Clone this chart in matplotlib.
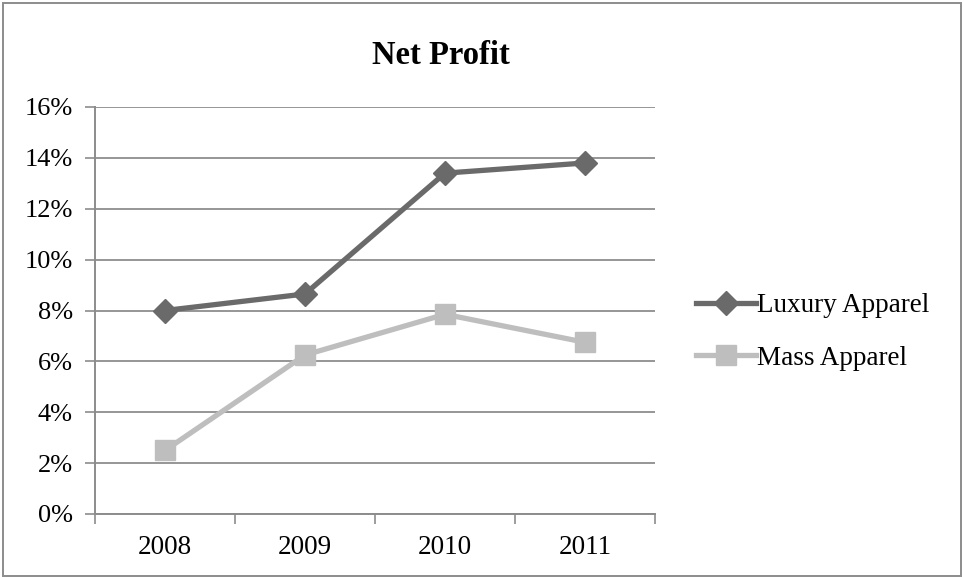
import matplotlib.pyplot as plt
from matplotlib.patches import Rectangle
from matplotlib.ticker import FuncFormatter

# Data
years = ['2008', '2009', '2010', '2011']
luxury = [8.0, 8.65, 13.4, 13.8]
mass = [2.5, 6.25, 7.85, 6.75]

plt.rcParams['font.family'] = ['Liberation Serif', 'DejaVu Serif']

fig = plt.figure(figsize=(9.64, 5.78), dpi=100)
ax = fig.add_axes([95 / 964, 1 - 514 / 578, 560 / 964, 407 / 578])

x = range(len(years))
ax.plot(x, luxury, color='#6a6a6a', lw=3.8, marker='D', ms=12,
        label='Luxury Apparel', solid_joinstyle='miter')
ax.plot(x, mass, color='#bebebe', lw=3.8, marker='s', ms=14,
        label='Mass Apparel', solid_joinstyle='miter')

# Axes styling
ax.set_xlim(-0.5, 3.5)
ax.set_ylim(0, 16)
ax.set_yticks(range(0, 17, 2))
ax.yaxis.set_major_formatter(FuncFormatter(lambda v, p: f'{v:.0f}%'))
ax.set_xticks(list(x))
ax.set_xticklabels(years)
ax.set_xticks([-0.5, 0.5, 1.5, 2.5, 3.5], minor=True)
ax.tick_params(axis='x', which='major', length=0, labelsize=19.5, pad=15)
ax.tick_params(axis='x', which='minor', length=7, width=1.2, color='#8c8c8c', direction='out')
ax.tick_params(axis='y', length=7, width=1.2, color='#8c8c8c', labelsize=19, pad=9)
ax.grid(axis='y', color='#969696', lw=1.4)
ax.set_axisbelow(True)
for s in ['top', 'right']:
    ax.spines[s].set_visible(False)
for s in ['left', 'bottom']:
    ax.spines[s].set_color('#8c8c8c')
    ax.spines[s].set_linewidth(1.4)

fig.text(441 / 964, 1 - 56 / 578, 'Net Profit', ha='center', va='center',
         fontsize=23.5, fontweight='bold')

fig.legend(loc='center left', bbox_to_anchor=(672 / 964, 1 - 332 / 578),
           frameon=False, fontsize=19.5, handlelength=2.2, handletextpad=0.05,
           labelspacing=1.0)

# Outer chart border
fig.patches.append(Rectangle((3 / 964, 2 / 578), 958 / 964, 573 / 578,
                             transform=fig.transFigure, fill=False,
                             edgecolor='#8c8c8c', lw=1.4))

plt.savefig('out.png', dpi=100)
